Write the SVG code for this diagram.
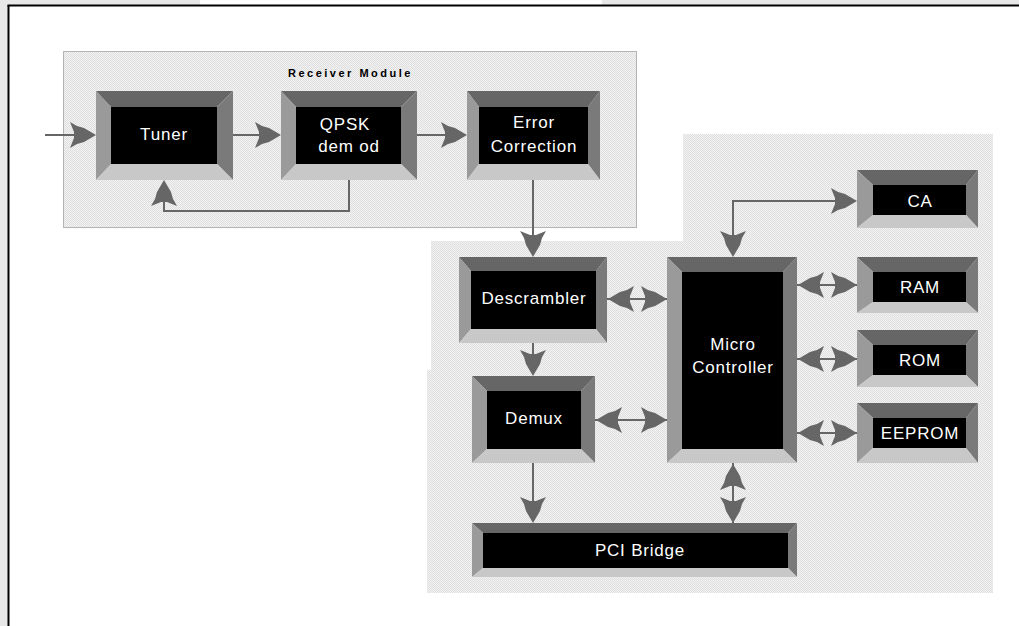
<svg xmlns="http://www.w3.org/2000/svg" width="1019" height="626" viewBox="0 0 1019 626">
<defs>
<pattern id="dots" width="2" height="2" patternUnits="userSpaceOnUse">
<rect width="2" height="2" fill="#f2f2f2"/>
<rect width="1" height="1" fill="#dfdfdf"/>
<rect x="1" y="1" width="1" height="1" fill="#dfdfdf"/>
</pattern>
<path id="ah" d="M0 0 L-12 -7 L-19 -9 L-26 -13 L-22 -3 L-22 3 L-26 13 L-19 9 L-12 7 Z" fill="#666666"/>
<style>
.bt{fill:#666666}
.bl{fill:#9a9a9a}
.br{fill:#7a7a7a}
.bb{fill:#c8c8c8}
.in{fill:#000000}
.t{font-family:"Liberation Sans",Arial,sans-serif;font-size:17px;fill:#ffffff;text-anchor:middle;letter-spacing:0.8px}
.lbl{font-family:"Liberation Sans",Arial,sans-serif;font-size:11px;font-weight:bold;fill:#000000;letter-spacing:2.5px}
.c{stroke:#666666;stroke-width:2;fill:none}
</style>
</defs>

<rect x="0" y="0" width="1019" height="626" fill="#ffffff"/>
<rect x="0" y="0" width="8" height="626" fill="#e8e8e8"/>
<rect x="0" y="0" width="200" height="5" fill="#e8e8e8"/>
<rect x="602" y="0" width="417" height="5" fill="#e8e8e8"/>
<line x1="8.5" y1="5" x2="8.5" y2="626" stroke="#000" stroke-width="2"/>
<line x1="7.5" y1="5.5" x2="1019" y2="5.5" stroke="#000" stroke-width="2"/>

<g id="receiver-module">
<rect x="63.5" y="51.5" width="573" height="176" fill="url(#dots)" stroke="#b4b4b4" stroke-width="1"/>
<text class="lbl" x="288" y="77">Receiver Module</text>
</g>
<g id="host-area">
<path d="M683 134 H993 V593 H427 V370 H431 V241 H683 Z" fill="url(#dots)"/>
</g>

<g id="tuner">
<polygon class="bt" points="96,91 233,91 217,107 111,107"/>
<polygon class="bl" points="96,91 111,107 111,164 96,180"/>
<polygon class="br" points="233,91 233,180 217,164 217,107"/>
<polygon class="bb" points="96,180 111,164 217,164 233,180"/>
<rect class="in" x="111" y="107" width="106" height="57"/>
<text class="t" x="164" y="140">Tuner</text>
</g>

<g id="qpsk">
<polygon class="bt" points="281,91 417,91 401,107 296,107"/>
<polygon class="bl" points="281,91 296,107 296,164 281,180"/>
<polygon class="br" points="417,91 417,180 401,164 401,107"/>
<polygon class="bb" points="281,180 296,164 401,164 417,180"/>
<rect class="in" x="296" y="107" width="105" height="57"/>
<text class="t" x="345" y="130">QPSK</text>
<text class="t" x="349" y="152">dem od</text>
</g>

<g id="error-correction">
<polygon class="bt" points="467,91 600,91 588,107 479,107"/>
<polygon class="bl" points="467,91 479,107 479,164 467,180"/>
<polygon class="br" points="600,91 600,180 588,164 588,107"/>
<polygon class="bb" points="467,180 479,164 588,164 600,180"/>
<rect class="in" x="479" y="107" width="109" height="57"/>
<text class="t" x="534" y="128">Error</text>
<text class="t" x="534" y="152">Correction</text>
</g>

<g id="descrambler">
<polygon class="bt" points="459,257 607,257 596,271 471,271"/>
<polygon class="bl" points="459,257 471,271 471,329 459,343"/>
<polygon class="br" points="607,257 607,343 596,329 596,271"/>
<polygon class="bb" points="459,343 471,329 596,329 607,343"/>
<rect class="in" x="471" y="271" width="125" height="58"/>
<text class="t" x="534" y="304">Descrambler</text>
</g>

<g id="demux">
<polygon class="bt" points="472,376 595,376 581,391 487,391"/>
<polygon class="bl" points="472,376 487,391 487,449 472,463"/>
<polygon class="br" points="595,376 595,463 581,449 581,391"/>
<polygon class="bb" points="472,463 487,449 581,449 595,463"/>
<rect class="in" x="487" y="391" width="94" height="58"/>
<text class="t" x="534" y="424">Demux</text>
</g>

<g id="micro-controller">
<polygon class="bt" points="667,257 797,257 783,272 682,272"/>
<polygon class="bl" points="667,257 682,272 682,449 667,463"/>
<polygon class="br" points="797,257 797,463 783,449 783,272"/>
<polygon class="bb" points="667,463 682,449 783,449 797,463"/>
<rect class="in" x="682" y="272" width="101" height="177"/>
<text class="t" x="733" y="350">Micro</text>
<text class="t" x="733" y="373">Controller</text>
</g>

<g id="pci-bridge">
<polygon class="bt" points="472,523 797,523 788,533 483,533"/>
<polygon class="bl" points="472,523 483,533 483,568 472,577"/>
<polygon class="br" points="797,523 797,577 788,568 788,533"/>
<polygon class="bb" points="472,577 483,568 788,568 797,577"/>
<rect class="in" x="483" y="533" width="305" height="35"/>
<text class="t" x="640" y="556">PCI Bridge</text>
</g>

<g id="ca">
<polygon class="bt" points="857,170 978,170 966,185 873,185"/>
<polygon class="bl" points="857,170 873,185 873,215 857,228"/>
<polygon class="br" points="978,170 978,228 966,215 966,185"/>
<polygon class="bb" points="857,228 873,215 966,215 978,228"/>
<rect class="in" x="873" y="185" width="93" height="30"/>
<text class="t" x="920" y="207">CA</text>
</g>

<g id="ram">
<polygon class="bt" points="857,257 978,257 966,272 873,272"/>
<polygon class="bl" points="857,257 873,272 873,302 857,313"/>
<polygon class="br" points="978,257 978,313 966,302 966,272"/>
<polygon class="bb" points="857,313 873,302 966,302 978,313"/>
<rect class="in" x="873" y="272" width="93" height="30"/>
<text class="t" x="920" y="293">RAM</text>
</g>

<g id="rom">
<polygon class="bt" points="857,330 978,330 966,345 873,345"/>
<polygon class="bl" points="857,330 873,345 873,375 857,387"/>
<polygon class="br" points="978,330 978,387 966,375 966,345"/>
<polygon class="bb" points="857,387 873,375 966,375 978,387"/>
<rect class="in" x="873" y="345" width="93" height="30"/>
<text class="t" x="920" y="366">ROM</text>
</g>

<g id="eeprom">
<polygon class="bt" points="857,403 978,403 966,418 873,418"/>
<polygon class="bl" points="857,403 873,418 873,448 857,463"/>
<polygon class="br" points="978,403 978,463 966,448 966,418"/>
<polygon class="bb" points="857,463 873,448 966,448 978,463"/>
<rect class="in" x="873" y="418" width="93" height="30"/>
<text class="t" x="920" y="439">EEPROM</text>
</g>

<g id="connectors">
<line class="c" x1="45" y1="135" x2="76" y2="135"/>
<use href="#ah" transform="translate(96,135)"/>
<line class="c" x1="233" y1="135" x2="262" y2="135"/>
<use href="#ah" transform="translate(281,135)"/>
<line class="c" x1="417" y1="135" x2="448" y2="135"/>
<use href="#ah" transform="translate(467,135)"/>
<path class="c" d="M349 180 V211 H164 V200"/>
<use href="#ah" transform="translate(164,180) rotate(-90)"/>
<line class="c" x1="533" y1="180" x2="533" y2="238"/>
<use href="#ah" transform="translate(533,257) rotate(90)"/>
<line class="c" x1="607" y1="299" x2="667" y2="299"/>
<use href="#ah" transform="translate(608,299) rotate(180)"/>
<use href="#ah" transform="translate(667,299)"/>
<line class="c" x1="533" y1="343" x2="533" y2="360"/>
<use href="#ah" transform="translate(533,376) rotate(90)"/>
<line class="c" x1="595" y1="420" x2="667" y2="420"/>
<use href="#ah" transform="translate(596,420) rotate(180)"/>
<use href="#ah" transform="translate(667,420)"/>
<line class="c" x1="533" y1="463" x2="533" y2="505"/>
<use href="#ah" transform="translate(533,523) rotate(90)"/>
<line class="c" x1="733" y1="463" x2="733" y2="523"/>
<use href="#ah" transform="translate(733,464) rotate(-90)"/>
<use href="#ah" transform="translate(733,523) rotate(90)"/>
<path class="c" d="M733 240 V201 H840"/>
<use href="#ah" transform="translate(857,201)"/>
<use href="#ah" transform="translate(733,257) rotate(90)"/>
<line class="c" x1="797" y1="285" x2="857" y2="285"/>
<use href="#ah" transform="translate(798,285) rotate(180)"/>
<use href="#ah" transform="translate(857,285)"/>
<line class="c" x1="797" y1="359" x2="857" y2="359"/>
<use href="#ah" transform="translate(798,359) rotate(180)"/>
<use href="#ah" transform="translate(857,359)"/>
<line class="c" x1="797" y1="433" x2="857" y2="433"/>
<use href="#ah" transform="translate(798,433) rotate(180)"/>
<use href="#ah" transform="translate(857,433)"/>
</g>
</svg>
